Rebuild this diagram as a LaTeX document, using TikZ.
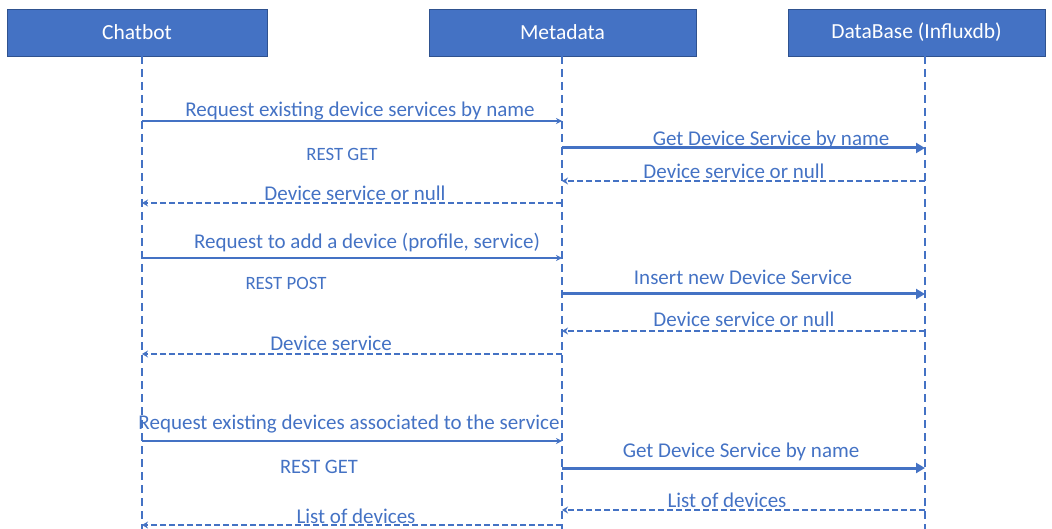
\documentclass[tikz,border=0pt]{standalone}
\usepackage{fontspec}
\setmainfont{Carlito}
\usetikzlibrary{arrows.meta}
\definecolor{accent}{HTML}{4472C4}
\definecolor{edge}{HTML}{2F528F}

\begin{document}
\begin{tikzpicture}[x=1pt,y=-1pt,
  actor/.style={draw=edge, fill=accent, text=white, line width=0.8pt,
    minimum height=47pt, inner sep=0pt, font=\fontsize{21.5}{24}\selectfont},
  lifeline/.style={accent, line width=2pt, dash pattern=on 8pt off 5pt},
  call/.style={accent, line width=1.3pt, -{Stealth[length=6pt,width=6pt]}},
  query/.style={accent, line width=3pt, -{Triangle[length=9pt,width=10pt]}},
  reply/.style={accent, line width=1.8pt, dash pattern=on 6pt off 3pt,
    -{Stealth[length=6pt,width=7pt]}},
  lbl/.style={text=accent, font=\fontsize{21}{24}\selectfont, inner sep=0pt, yshift=-1.5pt},
  note/.style={text=accent, font=\fontsize{18.8}{21}\selectfont, inner sep=0pt},
  notebig/.style={text=accent, font=\fontsize{20.5}{23}\selectfont, inner sep=0pt}]

\useasboundingbox (0,0) rectangle (1052,529);

% participants
\node[actor, minimum width=260pt] (chat) at (137,32.5) {Chatbot};
\node[actor, minimum width=267pt] (meta) at (562.5,32.5) {Metadata};
\node[actor, minimum width=257pt] (db)   at (916.5,32.5) {DataBase (Influxdb)};

% lifelines
\coordinate (cL) at (142,56);
\coordinate (mL) at (562,56);
\coordinate (dL) at (925,56);
\coordinate (cB) at (142,529);
\coordinate (mB) at (562,529);
\coordinate (dB) at (925,529);
\draw[lifeline] (cL) -- (cB);
\draw[lifeline] (mL) -- (mB);
\draw[lifeline] (dL) -- (dB);

% 1: look up device service
\draw[call]  (cL |- 0,121) -- (mL |- 0,121);
\node[lbl] (t1) at (360,110) {Request existing device services by name};
\node[note] (n1) at (342,154) {REST GET};
\draw[query] (mL |- 0,148) -- (dL |- 0,148);
\node[lbl] (t2) at (771,138) {Get Device Service by name};
\draw[reply] (dL |- 0,181) -- (mL |- 0,181);
\node[lbl] (t3) at (734,170) {Device service or null};
\draw[reply] (mL |- 0,203) -- (cL |- 0,203);
\node[lbl] (t4) at (355,192) {Device service or null};

% 2: add a device
\draw[call]  (cL |- 0,258) -- (mL |- 0,258);
\node[lbl] (t5) at (367,241) {Request to add a device (profile, service)};
\node[note] (n2) at (286,283) {REST POST};
\draw[query] (mL |- 0,294) -- (dL |- 0,294);
\node[lbl] (t6) at (743,276) {Insert new Device Service};
\draw[reply] (dL |- 0,331) -- (mL |- 0,331);
\node[lbl] (t7) at (744,318) {Device service or null};
\draw[reply] (mL |- 0,354) -- (cL |- 0,354);
\node[lbl] (t8) at (331,342) {Device service};

% 3: list devices of the service
\draw[call]  (cL |- 0,441) -- (mL |- 0,441);
\node[lbl] (t9) at (349,423) {Request existing devices associated to the service};
\node[notebig] (n3) at (319,467) {REST GET};
\draw[query] (mL |- 0,468) -- (dL |- 0,468);
\node[lbl] (t10) at (741,450) {Get Device Service by name};
\draw[reply] (dL |- 0,510) -- (mL |- 0,510);
\node[lbl] (t11) at (727,499) {List of devices};
\draw[reply] (mL |- 0,525) -- (cL |- 0,525);
\node[lbl] (t12) at (356,515) {List of devices};
\end{tikzpicture}
\end{document}
